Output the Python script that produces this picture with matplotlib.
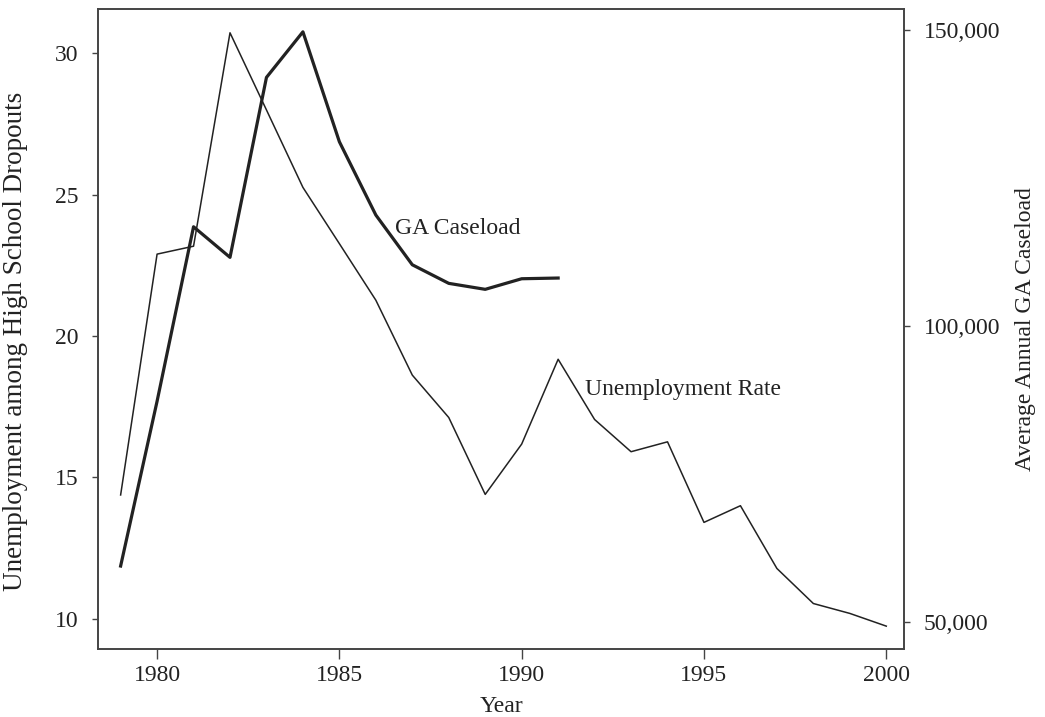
import numpy as np
import matplotlib
matplotlib.use("Agg")
import matplotlib.pyplot as plt
from matplotlib.ticker import FuncFormatter

plt.rcParams['font.family'] = ['Liberation Serif', 'DejaVu Serif']

# unemployment among high school dropouts (left axis)
years_unemp = [1979, 1980, 1981, 1982, 1983, 1984, 1985, 1986, 1987, 1988, 1989,
               1990, 1991, 1992, 1993, 1994, 1995, 1996, 1997, 1998, 1999, 2000]
unemp_rate = [14.38, 22.9, 23.18, 30.73, 28.0, 25.26, 23.27, 21.27, 18.62, 17.12, 14.40,
              16.18, 19.18, 17.05, 15.91, 16.26, 13.41, 14.0, 11.78, 10.54, 10.19, 9.74]

# average annual GA caseload (right axis)
years_ga = [1979, 1980, 1981, 1982, 1983, 1984, 1985, 1986, 1987, 1988, 1989, 1990, 1991]
ga_caseload = [59460, 87300, 116770, 111600, 142000, 149700, 131130, 118750,
               110350, 107210, 106200, 107990, 108110]

ink = "#222222"
fs = 17

fig = plt.figure(figsize=(10.45, 7.17), dpi=100)
ax = fig.add_axes([0.0938, 0.0948, 0.7714, 0.8926])
ax2 = ax.twinx()

ax.plot(years_unemp, unemp_rate, color=ink, lw=1.1)
ax2.plot(years_ga, ga_caseload, color=ink, lw=2.3)

ax.set_xlim(1978.38, 2000.49)
ax.set_ylim(8.93, 31.57)
ax2.set_ylim(45440, 153550)

ax.set_xticks([1980, 1985, 1990, 1995, 2000])
ax.set_yticks([10, 15, 20, 25, 30])
ax2.set_yticks([50000, 100000, 150000])
ax2.yaxis.set_major_formatter(FuncFormatter(lambda v, p: f"{int(v):,}"))

for a in (ax, ax2):
    for s in a.spines.values():
        s.set_color("#444444")
        s.set_linewidth(1.2)
ax.tick_params(axis='x', length=7.5, width=1, colors="#444444", labelcolor=ink,
               labelsize=fs, pad=4)
ax.tick_params(axis='y', length=4, width=1, colors="#444444", labelcolor=ink,
               labelsize=fs, pad=10)
ax2.tick_params(axis='y', length=4, width=1, colors="#444444", labelcolor=ink,
                labelsize=fs, pad=10)

ax.set_xlabel("Year", fontsize=fs, color=ink)
ax.xaxis.set_label_coords(0.5, -0.074)
ax.set_ylabel("Unemployment among High School Dropouts", fontsize=19.5, color=ink)
ax.yaxis.set_label_coords(-0.087, 0.48)
ax2.set_ylabel("Average Annual GA Caseload", fontsize=fs, color=ink)
ax2.yaxis.set_label_coords(1.1377, 0.5)

ax.text(1986.53, 23.82, "GA Caseload", fontsize=fs, color=ink, va='center', ha='left')
ax.text(1991.74, 18.12, "Unemployment Rate", fontsize=fs, color=ink, va='center', ha='left')

fig.savefig("out.png", dpi=100)
